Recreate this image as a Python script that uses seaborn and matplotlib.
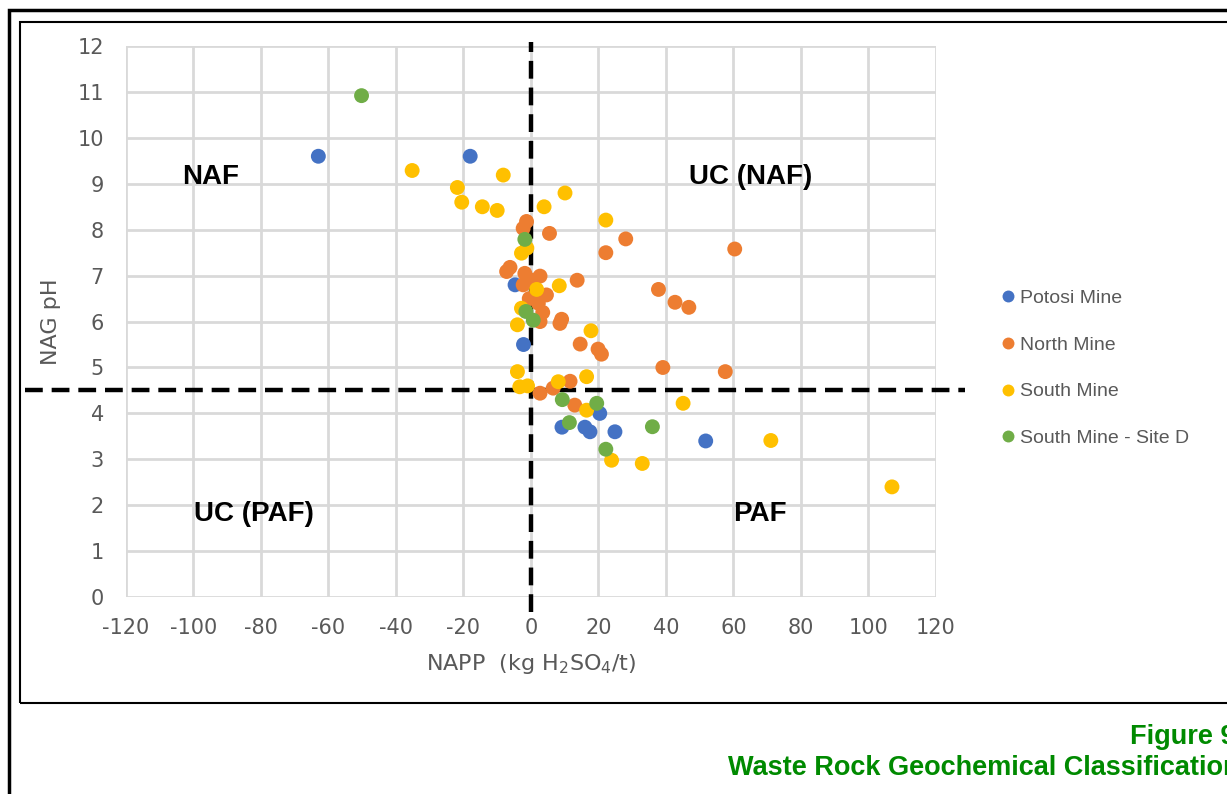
import pandas as pd
import matplotlib
matplotlib.use('Agg')
import matplotlib.pyplot as plt
import seaborn as sns
from matplotlib.patches import Rectangle

# === Data (NAPP kg H2SO4/t, NAG pH) ===
potosi_x = [-63, -18, -4.7, -2.2, 9.2, 16, 17.5, 20.4, 24.9, 51.8]
potosi_y = [9.6, 9.6, 6.8, 5.5, 3.7, 3.7, 3.6, 4.0, 3.6, 3.4]

north_x = [-1.3, -2.3, 5.5, 28.1, 22.2, 60.4, -6.2, -7.2, -1.8, 2.7, 13.7, -2.3, 4.6,
           2.2, 37.8, 42.7, 46.8, 2.7, 8.6, 9.1, 14.6, 19.9, 20.9, 39.1, 57.6, 11.6,
           2.7, 6.6, 13.0, -0.5, 3.5, 0.8]
north_y = [8.18, 8.03, 7.92, 7.8, 7.5, 7.58, 7.18, 7.09, 7.05, 6.99, 6.9, 6.8, 6.58,
           6.4, 6.7, 6.42, 6.31, 6.0, 5.96, 6.05, 5.51, 5.4, 5.29, 5.0, 4.91, 4.7,
           4.44, 4.55, 4.18, 6.5, 6.2, 6.9]

south_x = [-35.2, -8.2, -21.8, -20.5, -14.4, -10.0, 10.1, 3.9, 22.2, -2.8, -1.2, 1.7,
           8.4, -2.8, -4.0, 17.8, -4.0, -3.3, -1.0, 8.1, 16.5, 16.5, 45.1, 23.9, 33.0,
           71.1, 107.0]
south_y = [9.29, 9.19, 8.92, 8.6, 8.5, 8.42, 8.8, 8.5, 8.21, 7.49, 7.6, 6.7,
           6.78, 6.29, 5.93, 5.8, 4.91, 4.58, 4.6, 4.69, 4.8, 4.07, 4.22, 2.98, 2.91,
           3.41, 2.4]

sited_x = [-50.2, -1.8, -1.5, 0.7, 9.3, 11.4, 19.5, 36.0, 22.2]
sited_y = [10.92, 7.79, 6.22, 6.03, 4.3, 3.8, 4.22, 3.71, 3.22]

series_names = ['Potosi Mine', 'North Mine', 'South Mine', 'South Mine - Site D']
series_colors = ['#4472C4', '#ED7D31', '#FFC000', '#70AD47']

x_ticks = list(range(-120, 121, 20))
y_ticks = list(range(0, 13))

naf_line_x = 0
naf_line_y = 4.5

# build long-form table for seaborn
frames = []
for name, xs, ys in zip(series_names,
                        [potosi_x, north_x, south_x, sited_x],
                        [potosi_y, north_y, south_y, sited_y]):
    frames.append(pd.DataFrame({'NAPP': xs, 'NAG pH': ys, 'Source': name}))
df = pd.concat(frames, ignore_index=True)

# === Plot ===
sns.set_style('white')
plt.rcParams['font.family'] = ['DejaVu Sans']
plt.rcParams['mathtext.default'] = 'regular'
plt.rcParams['axes.unicode_minus'] = False

fig = plt.figure(figsize=(12.27, 7.94), dpi=100)
ax = fig.add_axes([0.1027, 0.248, 0.66, 0.694])

sns.scatterplot(data=df, x='NAPP', y='NAG pH', hue='Source', hue_order=series_names,
                palette=series_colors, s=115, edgecolor='none', linewidth=0, ax=ax, zorder=3)

ax.set_xlim(-120, 120)
ax.set_ylim(0, 12)
ax.set_xticks(x_ticks)
ax.set_yticks(y_ticks)
ax.grid(True, color='#D9D9D9', linewidth=2)
ax.set_axisbelow(True)
for sp in ax.spines.values():
    sp.set_visible(False)
ax.tick_params(length=0, labelsize=15, labelcolor='#595959')
ax.tick_params(axis='x', pad=15)
ax.tick_params(axis='y', pad=16)
ax.set_xlabel('NAPP  (kg H$_2$SO$_4$/t)', fontsize=16, color='#595959', labelpad=10)
ax.set_ylabel('NAG pH', fontsize=16, color='#595959', labelpad=12)

# classification boundaries (drawn past the plot area like in the original)
ax.axvline(naf_line_x, ymin=-0.027, ymax=1.007, color='black', lw=3.2,
           dashes=(4, 2), clip_on=False, zorder=2)
ax.axhline(naf_line_y, xmin=-0.125, xmax=1.036, color='black', lw=3.2,
           dashes=(4, 2), clip_on=False, zorder=2)

# quadrant labels
lab = dict(fontsize=20, fontweight='bold', ha='center', va='center', color='black',
           family='Liberation Sans')
ax.text(-95, 9.15, 'NAF', **lab)
ax.text(65, 9.15, 'UC (NAF)', **lab)
ax.text(-82, 1.8, 'UC (PAF)', **lab)
ax.text(68, 1.8, 'PAF', **lab)

# legend to the right
ax.legend(loc='upper left', bbox_to_anchor=(0.806, 0.648), bbox_transform=fig.transFigure,
          frameon=False, labelspacing=1.5, handletextpad=0.1,
          handlelength=1.0, borderpad=0, markerscale=0.8,
          labelcolor='#595959', prop={'family': 'Liberation Sans', 'size': 14})

# page frames
fig.patches.append(Rectangle((0.0073, -0.1), 1.2, 1.087, transform=fig.transFigure,
                             fill=False, edgecolor='black', lw=2.5))
fig.patches.append(Rectangle((0.0163, 0.1146), 1.2, 0.8574, transform=fig.transFigure,
                             fill=False, edgecolor='black', lw=1.5))

# caption (the source page crops it at the right edge)
cap = dict(fontsize=19.5, fontweight='bold', color='#008A00', family='Liberation Sans',
           ha='left', va='center')
fig.text(1130 / 1227, 0.072, 'Figure 9', **cap)
fig.text(728 / 1227, 0.033, 'Waste Rock Geochemical Classification', **cap)

fig.savefig('out.png', dpi=100)
